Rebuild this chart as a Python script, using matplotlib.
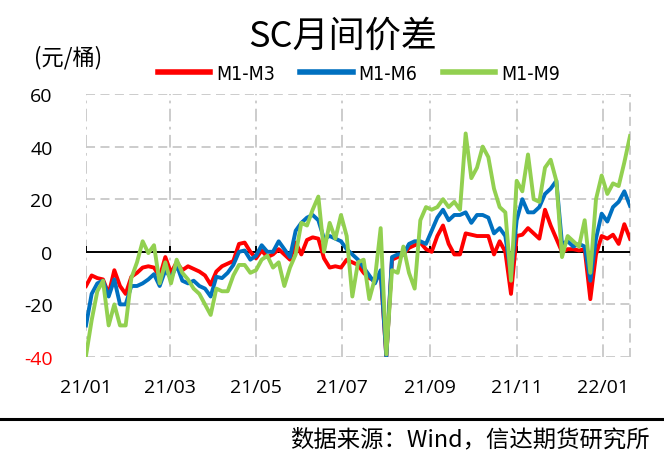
import matplotlib
matplotlib.use("Agg")
import matplotlib.pyplot as plt
from matplotlib.lines import Line2D
from matplotlib import font_manager
import pandas as pd

# ---------------- data ----------------
start_date = "2021-01-01"
n_points = 97
step = "4D"

m1_m3 = [-13, -9, -10, -10.5, -16, -7, -13, -16, -9.5, -8, -6, -5.5, -6, -9.5, -2, -8,
         -4, -7, -5.5, -6.5, -7.5, -9, -12.5, -7.5, -5.5, -4.5, -3.5, 3, 3.5, 0, -2.5, 0.5,
         -2, -1, 1, -1, -3, 3.5, -1, 4.5, 5.5, 5, -2.5, -6, -5.5, -6, -3, -4,
         -5, -8, -10, -11, -8, -40, -3, -2, -1, 1.5, 2.5, 3.5, 1, 0, 6, 10,
         3, -1, -1, 7, 6.5, 6, 6, 6, -1, 4, 0, -16, 6, 6.5, 9, 7,
         5, 16, 10, 5, 0, 1, 1, 0.5, 1, -18, -1, 6, 5, 6.5, 3, 10.5, 5]

m1_m6 = [-28, -16, -12, -11, -17, -10.5, -20, -20, -13, -13, -12, -10.5, -8.5, -13, -7, -10,
         -5, -11, -12, -11, -13, -14, -17, -9.5, -10, -8, -5, 0, 0.5, -3, -1.5, 2.5,
         0, 0, 4, 1, -2, 8, 11, 13, 14, 12, 5, 6, 5, 4, 1, -1,
         -3, -6, -9, -12, -7, -40, -2, -1, -1, 3, 4, 4, 3, 8, 13, 16,
         12, 14, 14, 15, 11, 14, 14, 13, 7, 9, 6, -9, 12, 20, 15, 15,
         17, 22, 24, 27, 3, 4, 2, 3, 2, -11, 5, 14.5, 11.5, 17, 19, 23, 17.5]

m1_m9 = [-39.5, -26, -15, -11, -28, -20, -28, -28, -10, -4, 4, -0.5, 2.5, -12, -4, -12,
         -3, -8, -10.5, -14, -16, -20, -24, -14, -15, -15, -9, -5, -5, -8, -7, -3,
         -1.5, -6, -4, -13, -6, -1, 11, 10, 16, 21, 0, 11, 5, 14, 6, -17,
         -4, -3, -18, -10, 9, -39, -7, -8, 2, -8, -14, 12, 17, 16, 17, 20,
         17, 19, 16, 45, 28, 32, 40, 36, 24, 17, 15, -11, 27, 23, 37, 20,
         19, 32, 35, 27, -2, 6, 4, 2, 12, -8, 20, 29, 22, 26, 25, 34, 44]

series_names = ["M1-M3", "M1-M6", "M1-M9"]
series_colors = ["#FF0000", "#0070C0", "#92D050"]

tick_dates = ["2021-01-01", "2021-03-01", "2021-05-01", "2021-07-01",
              "2021-09-01", "2021-11-01", "2022-01-01"]
tick_labels = ["21/01", "21/03", "21/05", "21/07", "21/09", "21/11", "22/01"]
y_ticks = [-40, -20, 0, 20, 40, 60]

dates = pd.date_range(start_date, periods=n_points, freq=step)

# narrow font for the legend if present
avail = {f.name for f in font_manager.fontManager.ttflist}
legend_family = "Liberation Sans Narrow" if "Liberation Sans Narrow" in avail else "DejaVu Sans"

# ---------------- figure ----------------
W, H = 664, 452
fig = plt.figure(figsize=(W / 100, H / 100), dpi=100)
fig.patch.set_facecolor("white")

L, R, T, B = 86, 630, 95, 358
ax = fig.add_axes([L / W, 1 - B / H, (R - L) / W, (B - T) / H])

for vals, name, col in zip([m1_m3, m1_m6, m1_m9], series_names, series_colors):
    ax.plot(dates, vals, color=col, lw=2.8, label=name, zorder=3, solid_joinstyle="round")

ax.set_ylim(-40, 60)
ax.set_xlim(pd.Timestamp(start_date), dates[-1])
ax.set_yticks(y_ticks)
ax.set_yticklabels([str(v) for v in y_ticks])
tks = pd.to_datetime(tick_dates)
ax.set_xticks(tks)
ax.set_xticklabels(tick_labels)

for s in ax.spines.values():
    s.set_visible(False)

grid_col = "#C8C8C8"
ax.grid(axis="y", color=grid_col, lw=1.3, ls=(0, (5, 3)), zorder=0)
ax.grid(axis="x", color=grid_col, lw=1.3, ls=(0, (7, 3, 1.5, 3)), zorder=0)
ax.axvline(ax.get_xlim()[1], color=grid_col, lw=1.3, ls=(0, (5, 3)), zorder=0, clip_on=False)

# zero axis with upward tick marks
ax.axhline(0, color="black", lw=1.4, zorder=2)
ax.vlines(tks, 0, 2.3, color="black", lw=1.4, zorder=2)

ax.tick_params(axis="both", length=0)
ax.tick_params(axis="y", pad=24)
ax.tick_params(axis="x", pad=15)
for lab in ax.get_xticklabels() + ax.get_yticklabels():
    lab.set_fontfamily("Open Sans")
    lab.set_fontsize(14)
ax.get_yticklabels()[0].set_color("red")

# title, unit, legend, source
cjk = ["Noto Sans CJK SC", "DejaVu Sans"]
fig.text(343 / W, 1 - 37 / H, "SC月间价差", ha="center", va="center",
         fontsize=26, family=cjk, weight="medium")
fig.text(34 / W, 1 - 58 / H, "(元/桶)", ha="left", va="center",
         fontsize=16, family=cjk)

handles = [Line2D([], [], color=c, lw=4) for c in series_colors]
fig.legend(handles, series_names, loc="center", bbox_to_anchor=(359 / W, 1 - 74 / H),
           ncol=3, frameon=False, handlelength=2.7, handletextpad=0.3, columnspacing=1.3,
           prop={"family": legend_family, "size": 14, "stretch": "condensed"})

fig.add_artist(Line2D([0, 1], [1 - 420 / H, 1 - 420 / H], color="black", lw=2.2))
fig.text(650 / W, 1 - 440 / H, "数据来源：Wind，信达期货研究所", ha="right", va="center",
         fontsize=16.8, family=cjk, weight="light")

fig.savefig("out.png", dpi=100)
